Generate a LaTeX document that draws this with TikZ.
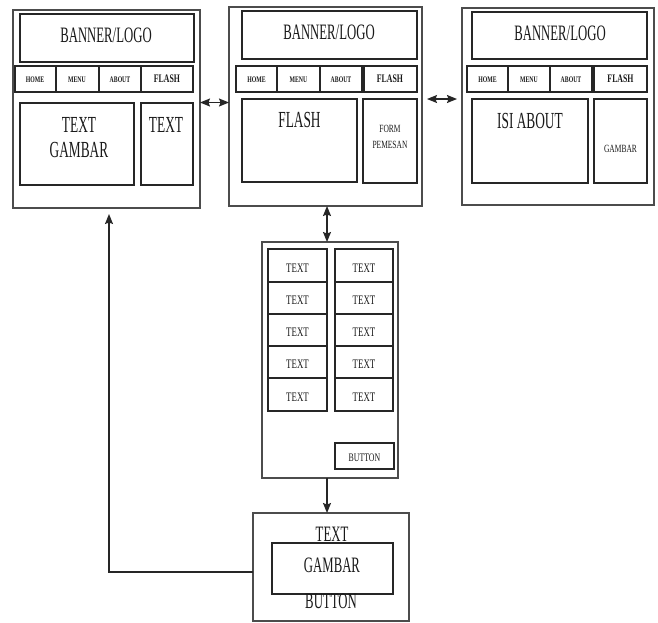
\documentclass[tikz,border=0pt]{standalone}
\usepackage{fontspec}
\usetikzlibrary{arrows.meta}
\newfontfamily\trm[FakeStretch=0.58]{Liberation Serif}
\newfontfamily\trs[FakeStretch=0.68]{Liberation Serif}
\newcommand\mybox[6][]{\node[box,#1,minimum width={(#5-#3)*1pt},minimum height={(#6-#4)*1pt}] (#2) at ({(#3+#5)/2},{(#4+#6)/2}) {};}
\newcommand\mylbl[5][]{\node[lbl=#4,#1] (#2) at (#3) {#5};}
\tikzset{
  box/.style={draw=black!85,line width=1.2pt,inner sep=0pt,outer sep=0pt},
  page/.style={box,draw=black!70},
  lbl/.style={font=\trm\fontsize{#1}{#1}\selectfont,anchor=base,inner sep=0pt,text=black!90},
  sm/.style={font=\trs\fontsize{#1}{#1}\selectfont},
  nav/.style={font=\trs\bfseries\fontsize{#1}{#1}\selectfont},
  tip/.tip={Stealth[length=10pt,width=8pt,inset=1.5pt]},
  arr/.style={draw=black!85,line width=1.2pt,-tip},
  dbl/.style={draw=black!85,line width=1.2pt,tip-tip}
}
\begin{document}
\begin{tikzpicture}[x=1pt,y=-1pt]
\useasboundingbox[fill=white] (0,0) rectangle (658,622);
% ---- left page
\mybox[page]{lp}{13}{10}{200}{208}
\mybox{lb}{20}{14}{194}{62}
\mybox{lnh}{15}{66}{56}{92}
\mybox{lnm}{56}{66}{99}{92}
\mybox{lna}{99}{66}{141}{92}
\mybox{lnf}{141}{66}{193}{92}
\mybox{ltg}{20}{103}{134}{185}
\mybox{lt}{141}{103}{193}{185}
\mylbl{tlb}{106,42}{22}{BANNER/LOGO}
\mylbl[nav=8.5]{tlnh}{35,82}{8.5}{HOME}
\mylbl[nav=8.5]{tlnm}{77,82}{8.5}{MENU}
\mylbl[nav=8.5]{tlna}{120,82}{8.5}{ABOUT}
\mylbl[nav=11.5]{tlnf}{167,82}{11.5}{FLASH}
\mylbl{tltg1}{79,132}{23}{TEXT}
\mylbl{tltg2}{79,157}{23}{GAMBAR}
\mylbl{tlt}{166,132}{23}{TEXT}
% ---- middle page
\mybox[page]{mp}{229}{7}{422}{206}
\mybox{mb}{242}{11}{417}{59}
\mybox{mnh}{236}{66}{277}{92}
\mybox{mnm}{277}{66}{320}{92}
\mybox{mna}{320}{66}{362}{92}
\mybox{mnf}{364}{66}{417}{92}
\mybox{mf}{242}{99}{357}{182}
\mybox{mfp}{363}{99}{417}{183}
\mylbl{tmb}{329,39}{22}{BANNER/LOGO}
\mylbl[nav=8.5]{tmnh}{256.5,82}{8.5}{HOME}
\mylbl[nav=8.5]{tmnm}{298.5,82}{8.5}{MENU}
\mylbl[nav=8.5]{tmna}{341,82}{8.5}{ABOUT}
\mylbl[nav=11.5]{tmnf}{390,82}{11.5}{FLASH}
\mylbl{tmf}{299.5,127}{23}{FLASH}
\mylbl[sm=11]{tmfp1}{390,132}{11}{FORM}
\mylbl[sm=11]{tmfp2}{390,148}{11}{PEMESAN}
% ---- right page
\mybox[page]{rp}{462}{8}{654}{205}
\mybox{rb}{472}{12}{647}{59}
\mybox{rnh}{467}{66}{508}{92}
\mybox{rnm}{508}{66}{550}{92}
\mybox{rna}{550}{66}{592}{92}
\mybox{rnf}{594}{66}{647}{92}
\mybox{ra}{472}{99}{588}{183}
\mybox{rg}{594}{99}{647}{183}
\mylbl{trb}{560,40}{22}{BANNER/LOGO}
\mylbl[nav=8.5]{trnh}{487.5,82}{8.5}{HOME}
\mylbl[nav=8.5]{trnm}{529,82}{8.5}{MENU}
\mylbl[nav=8.5]{trna}{571,82}{8.5}{ABOUT}
\mylbl[nav=11.5]{trnf}{620.5,82}{11.5}{FLASH}
\mylbl{tra}{530,128}{23}{ISI ABOUT}
\mylbl[sm=11]{trg}{620.5,152}{11}{GAMBAR}
% ---- list page
\mybox[page]{lsp}{262}{242}{398}{478}
\mybox{a1}{268}{249}{327}{282}
\mybox{a2}{268}{282}{327}{314}
\mybox{a3}{268}{314}{327}{346}
\mybox{a4}{268}{346}{327}{378}
\mybox{a5}{268}{378}{327}{411}
\mybox{b1}{335}{249}{393}{282}
\mybox{b2}{335}{282}{393}{314}
\mybox{b3}{335}{314}{393}{346}
\mybox{b4}{335}{346}{393}{378}
\mybox{b5}{335}{378}{393}{411}
\mybox{lbtn}{335}{443}{394}{469}
\mylbl[sm=13]{ta1}{297.5,272}{13}{TEXT}
\mylbl[sm=13]{ta2}{297.5,304.5}{13}{TEXT}
\mylbl[sm=13]{ta3}{297.5,336.5}{13}{TEXT}
\mylbl[sm=13]{ta4}{297.5,368.5}{13}{TEXT}
\mylbl[sm=13]{ta5}{297.5,401}{13}{TEXT}
\mylbl[sm=13]{tb1}{364,272}{13}{TEXT}
\mylbl[sm=13]{tb2}{364,304.5}{13}{TEXT}
\mylbl[sm=13]{tb3}{364,336.5}{13}{TEXT}
\mylbl[sm=13]{tb4}{364,368.5}{13}{TEXT}
\mylbl[sm=13]{tb5}{364,401}{13}{TEXT}
\mylbl[sm=11.5]{tlbtn}{364.5,461}{11.5}{BUTTON}
% ---- bottom page
\mybox[page]{bp}{253}{513}{409}{621}
\mybox{bg}{272}{543}{393}{594}
\mylbl{tbp1}{332,541}{22}{TEXT}
\mylbl{tbg}{332,572}{22}{GAMBAR}
\mylbl{tbp2}{331,608}{22}{BUTTON}
% ---- connectors
\coordinate (ax) at (327,0);
\coordinate (lx) at (109,0);
\draw[dbl] ([yshift=6.5pt]lp.east) -- ([yshift=6.5pt]lp.east -| mp.west);
\draw[dbl,shorten <=5pt,shorten >=5pt] ([yshift=7.5pt]mp.east) -- ([yshift=7.5pt]mp.east -| rp.west);
\draw[dbl] (mp.south -| ax) -- (lsp.north -| ax);
\draw[arr] (lsp.south -| ax) -- (bp.north -| ax);
\draw[arr,shorten >=6pt] ([yshift=-5pt]bp.west) -| (lp.south -| lx);
\end{tikzpicture}
\end{document}
